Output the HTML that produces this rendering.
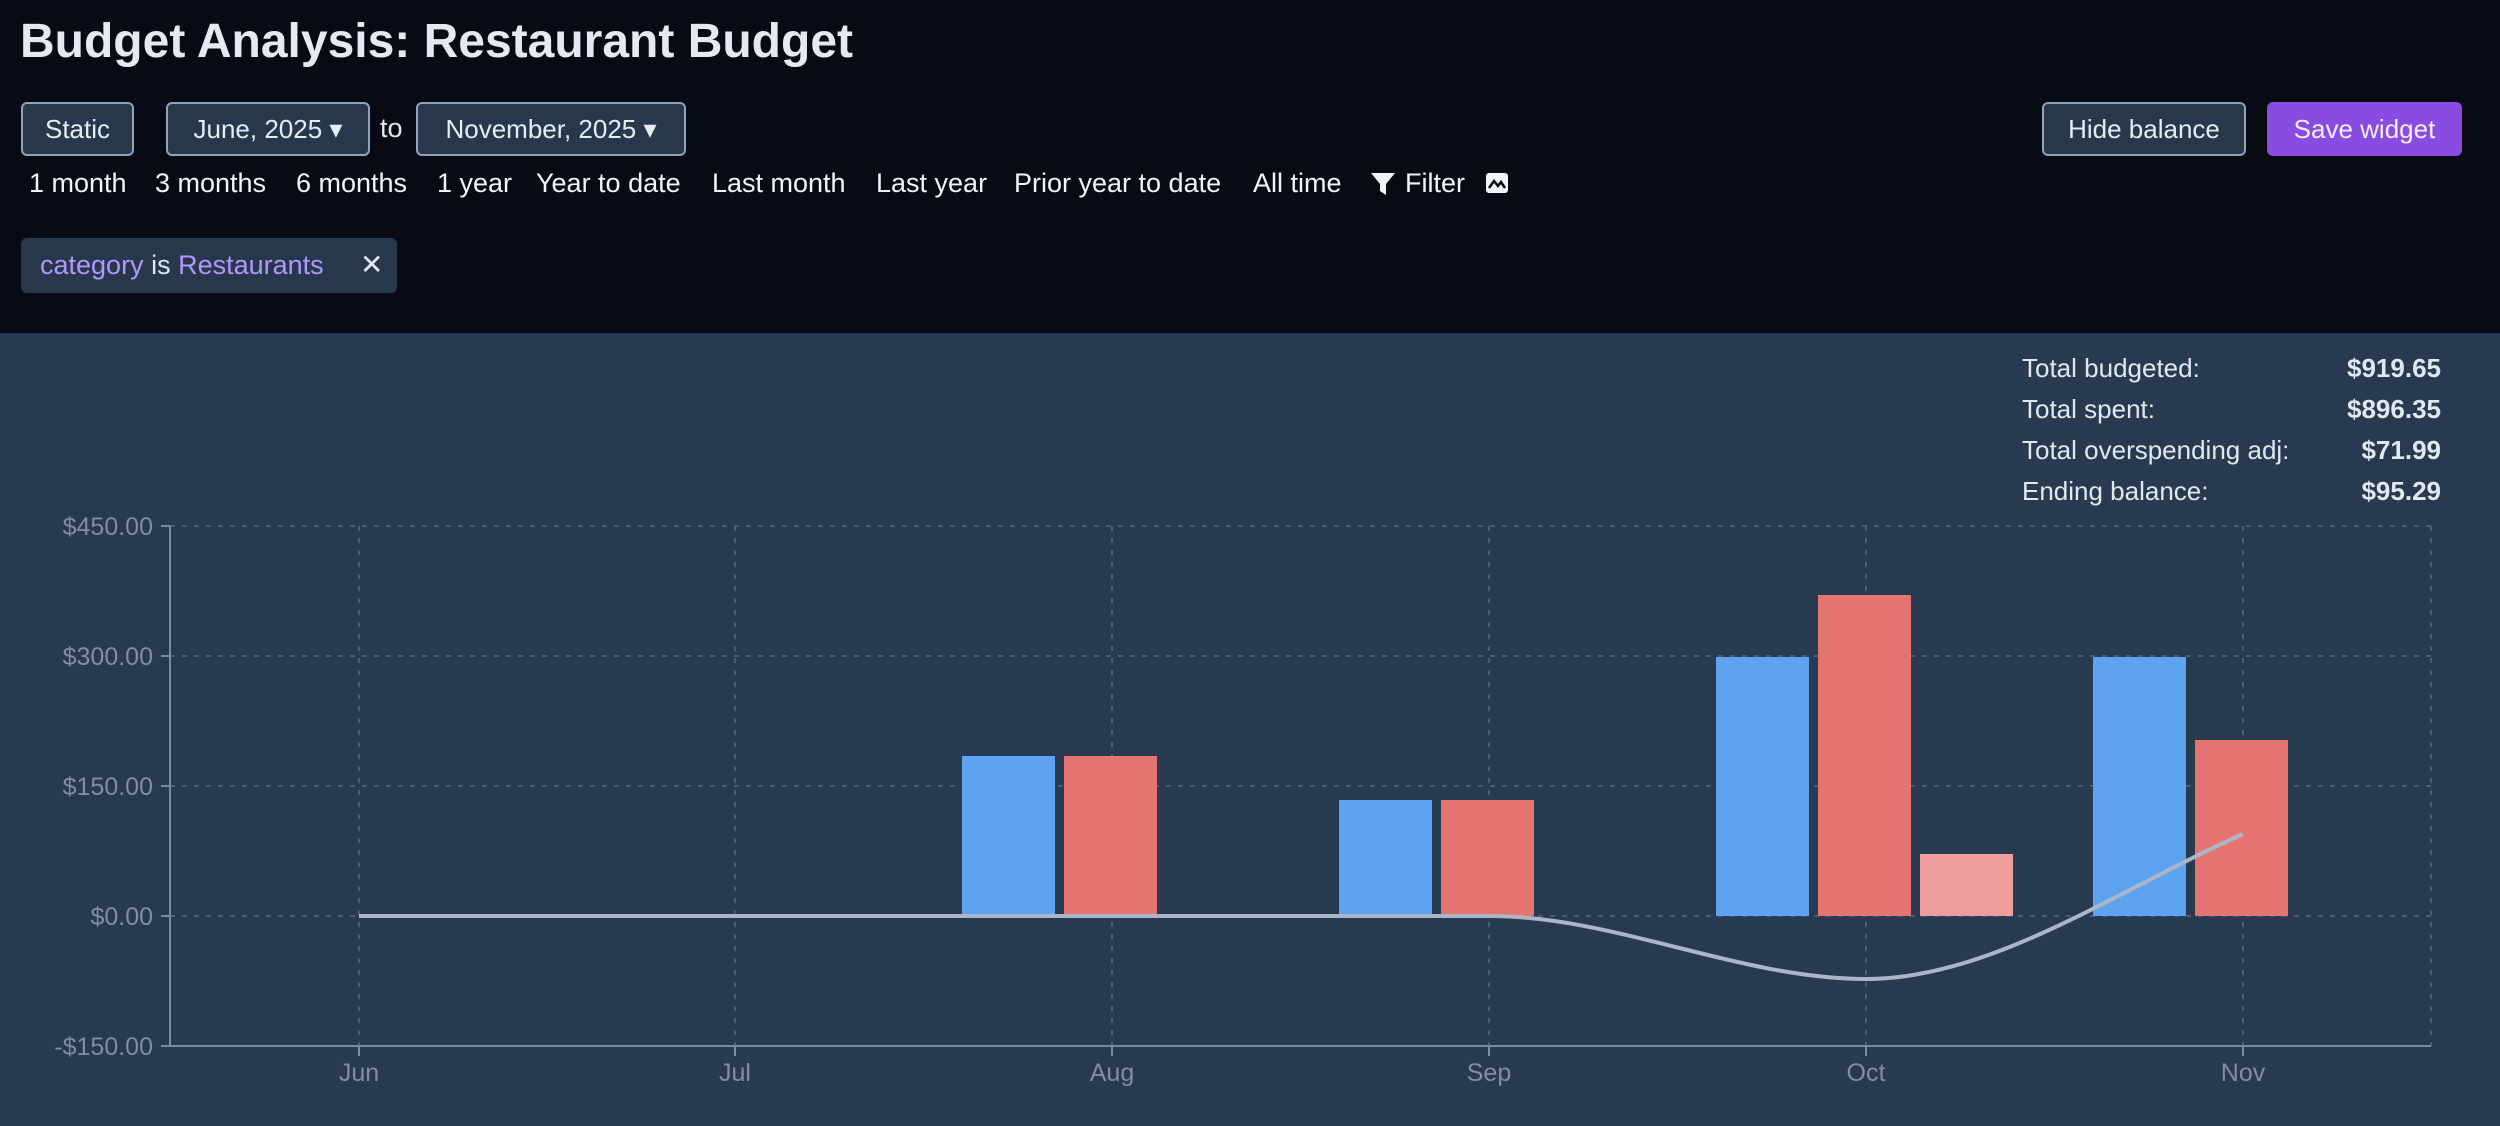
<!DOCTYPE html>
<html><head><meta charset="utf-8"><style>
*{margin:0;padding:0;box-sizing:border-box}
body{width:2500px;height:1126px;background:#283a50;font-family:"Liberation Sans",sans-serif;position:relative;overflow:hidden;color:#e2e8f0}
#hdr{position:absolute;left:0;top:0;width:2500px;height:333px;background:#090b14}
.a{position:absolute;white-space:nowrap}
.btn{position:absolute;top:102px;height:54px;border:2px solid #8fa3bb;border-radius:6px;background:#27384d;color:#e6ecf4;font-size:26px;line-height:50px;text-align:center}
.rl{position:absolute;top:168px;font-size:27px;color:#f1f5f9}
.sl{position:absolute;left:2022px;font-size:26px;color:#e2e8f0}
.sv{position:absolute;right:59px;font-size:26px;font-weight:bold;color:#e2e8f0}
</style></head><body>
<div id="hdr">
<div class="a" style="left:20px;top:14px;font-size:48px;font-weight:bold;color:#e5e9f3">Budget Analysis: Restaurant Budget</div>
<div class="btn" style="left:21px;width:113px">Static</div>
<div class="btn" style="left:166px;width:204px">June, 2025 ▾</div>
<div class="a" style="left:380px;top:113px;font-size:27px">to</div>
<div class="btn" style="left:416px;width:270px">November, 2025 ▾</div>
<div class="rl" style="left:29px">1 month</div>
<div class="rl" style="left:155px">3 months</div>
<div class="rl" style="left:296px">6 months</div>
<div class="rl" style="left:437px">1 year</div>
<div class="rl" style="left:536px">Year to date</div>
<div class="rl" style="left:712px">Last month</div>
<div class="rl" style="left:876px">Last year</div>
<div class="rl" style="left:1014px">Prior year to date</div>
<div class="rl" style="left:1253px">All time</div>
<svg class="a" style="left:1370px;top:171px" width="26" height="26" viewBox="0 0 26 26"><path d="M1 2h24l-9 11v11l-6-4v-7z" fill="#f1f5f9"/></svg>
<div class="rl" style="left:1405px">Filter</div>
<svg class="a" style="left:1485px;top:172px" width="24" height="22" viewBox="0 0 24 22"><rect x="1" y="1" width="22" height="20" rx="3" fill="#f1f5f9"/><path d="M4 16l5-7 4 5 3-4 4 6" stroke="#090b14" stroke-width="2.5" fill="none"/></svg>
<div class="a" style="left:21px;top:238px;width:376px;height:55px;background:#27384d;border-radius:6px"></div>
<div class="a" style="left:40px;top:250px;font-size:27px;color:#e2e8f0"><span style="color:#b197fc">category</span> is <span style="color:#b197fc">Restaurants</span></div>
<div class="a" style="left:360px;top:248px;font-size:28px;color:#e2e8f0">✕</div>
<div class="btn" style="left:2042px;width:204px">Hide balance</div>
<div class="btn" style="left:2267px;width:195px;background:#8a4be2;border-color:#8a4be2;color:#f3eefe">Save widget</div>
</div>
<div class="sl" style="top:353px">Total budgeted:</div><div class="sv" style="top:353px">$919.65</div>
<div class="sl" style="top:394px">Total spent:</div><div class="sv" style="top:394px">$896.35</div>
<div class="sl" style="top:435px">Total overspending adj:</div><div class="sv" style="top:435px">$71.99</div>
<div class="sl" style="top:476px">Ending balance:</div><div class="sv" style="top:476px">$95.29</div>
<svg class="a" style="left:0;top:0" width="2500" height="1126" font-family="Liberation Sans, sans-serif">
<g stroke="#4a5d75" stroke-width="2" stroke-dasharray="5 7" fill="none">
<line x1="170" y1="526" x2="2431" y2="526"/><line x1="170" y1="656" x2="2431" y2="656"/><line x1="170" y1="786" x2="2431" y2="786"/><line x1="170" y1="916" x2="2431" y2="916"/>
<line x1="359" y1="526" x2="359" y2="1046"/><line x1="735" y1="526" x2="735" y2="1046"/><line x1="1112" y1="526" x2="1112" y2="1046"/><line x1="1489" y1="526" x2="1489" y2="1046"/><line x1="1866" y1="526" x2="1866" y2="1046"/><line x1="2243" y1="526" x2="2243" y2="1046"/><line x1="2431" y1="526" x2="2431" y2="1046"/>
</g>
<g stroke="#7a8ca3" stroke-width="2">
<line x1="170" y1="526" x2="170" y2="1047"/><line x1="169" y1="1046" x2="2431" y2="1046"/>
<line x1="161" y1="526" x2="170" y2="526"/><line x1="161" y1="656" x2="170" y2="656"/><line x1="161" y1="786" x2="170" y2="786"/><line x1="161" y1="916" x2="170" y2="916"/><line x1="161" y1="1046" x2="170" y2="1046"/>
<line x1="359" y1="1046" x2="359" y2="1056"/><line x1="735" y1="1046" x2="735" y2="1056"/><line x1="1112" y1="1046" x2="1112" y2="1056"/><line x1="1489" y1="1046" x2="1489" y2="1056"/><line x1="1866" y1="1046" x2="1866" y2="1056"/><line x1="2243" y1="1046" x2="2243" y2="1056"/>
</g>
<g fill="#7f8ea4" font-size="25" text-anchor="end">
<text x="153" y="535">$450.00</text><text x="153" y="665">$300.00</text><text x="153" y="795">$150.00</text><text x="153" y="925">$0.00</text><text x="153" y="1055">-$150.00</text>
</g>
<g fill="#7f8ea4" font-size="25" text-anchor="middle">
<text x="359" y="1081">Jun</text><text x="735" y="1081">Jul</text><text x="1112" y="1081">Aug</text><text x="1489" y="1081">Sep</text><text x="1866" y="1081">Oct</text><text x="2243" y="1081">Nov</text>
</g>
<g>
<rect x="962" y="756" width="93" height="160" fill="#5ea3f0"/><rect x="1064" y="756" width="93" height="160" fill="#e57470"/>
<rect x="1339" y="800" width="93" height="116" fill="#5ea3f0"/><rect x="1441" y="800" width="93" height="116" fill="#e57470"/>
<rect x="1716" y="657" width="93" height="259" fill="#5ea3f0"/><rect x="1818" y="595" width="93" height="321" fill="#e57470"/><rect x="1920" y="854" width="93" height="62" fill="#f09e9c"/>
<rect x="2093" y="657" width="93" height="259" fill="#5ea3f0"/><rect x="2195" y="740" width="93" height="176" fill="#e57470"/>
</g>
<path d="M359 916 L1489 916 C1615 916 1740 979 1866 979 C1992 979 2117 890 2243 834" stroke="#a9b6c8" stroke-width="4" fill="none"/>
</svg>
</body></html>
